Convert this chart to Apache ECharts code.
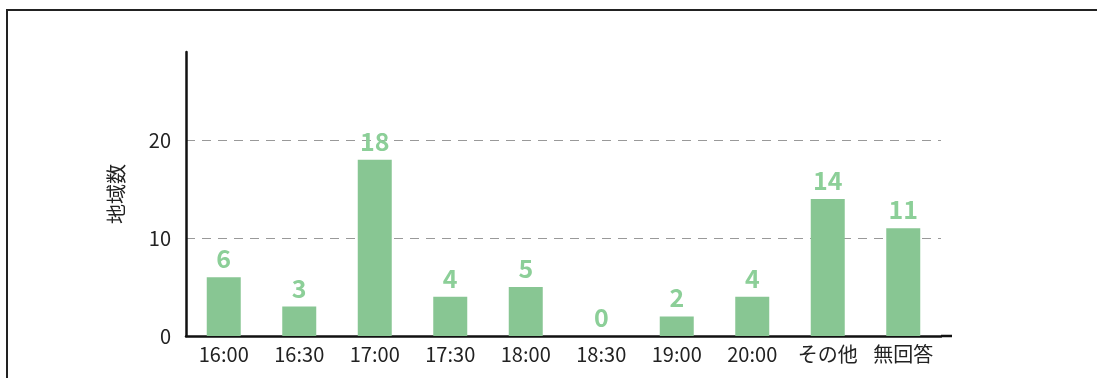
<!DOCTYPE html>
<html>
<head>
<meta charset="utf-8">
<script src="https://cdn.jsdelivr.net/npm/echarts@6/dist/echarts.min.js"></script>
<style>
  html, body { margin: 0; padding: 0; background: #fff; }
  #frame { position: absolute; left: 6px; top: 9px; width: 1091px; height: 369px;
           border-left: 2px solid #222; border-top: 2px solid #222; box-sizing: border-box; }
  #chart { position: absolute; left: 0; top: 0; width: 1097px; height: 378px; }
</style>
</head>
<body>
<div id="frame"></div>
<div id="chart"></div>
<script>
// 時間帯ごとの地域数
const categories = ['16:00', '16:30', '17:00', '17:30', '18:00', '18:30', '19:00', '20:00', 'その他', '無回答'];
const counts = [6, 3, 18, 4, 5, 0, 2, 4, 14, 11];
const yTicks = [0, 10, 20];

const font = '"Noto Sans CJK JP", "Noto Sans", sans-serif';

const chart = echarts.init(document.getElementById('chart'), null, { renderer: 'canvas' });
chart.setOption({
  backgroundColor: 'transparent',
  animation: false,
  grid: { left: 186, right: 156, top: 52, bottom: 42, containLabel: false },
  xAxis: {
    type: 'category',
    data: categories,
    // the baseline runs a little past the last category
    axisLine: { show: true, lineStyle: { color: '#111', width: 2.5 },
                symbol: ['none', 'rect'], symbolSize: [2.5, 11], symbolOffset: [0, 5.5] },
    axisTick: { show: false },
    axisLabel: { color: '#222', fontSize: 20, fontFamily: font, margin: 8, interval: 0 }
  },
  yAxis: {
    type: 'value',
    min: 0,
    max: 29,
    interval: 10,
    name: '地域数',
    nameLocation: 'middle',
    nameRotate: 90,
    nameGap: 60,
    nameTextStyle: { color: '#222', fontSize: 20, fontFamily: font },
    axisLine: { show: true, lineStyle: { color: '#111', width: 2.5 } },
    axisTick: { show: false },
    axisLabel: {
      color: '#222', fontSize: 20, fontFamily: font, margin: 15,
      formatter: v => (yTicks.includes(v) ? String(v) : '')
    },
    splitLine: {
      show: true, showMinLine: false, showMaxLine: false,
      lineStyle: { color: '#999', type: [9, 7], width: 1.2 }
    }
  },
  series: [{
    type: 'bar',
    data: counts,
    barWidth: 34,
    itemStyle: { color: '#88c693' },
    label: {
      show: true,
      position: 'top',
      distance: 6,
      color: '#8ccf98',
      fontSize: 25,
      fontWeight: 'bold',
      fontFamily: font
    }
  }]
});
</script>
</body>
</html>
